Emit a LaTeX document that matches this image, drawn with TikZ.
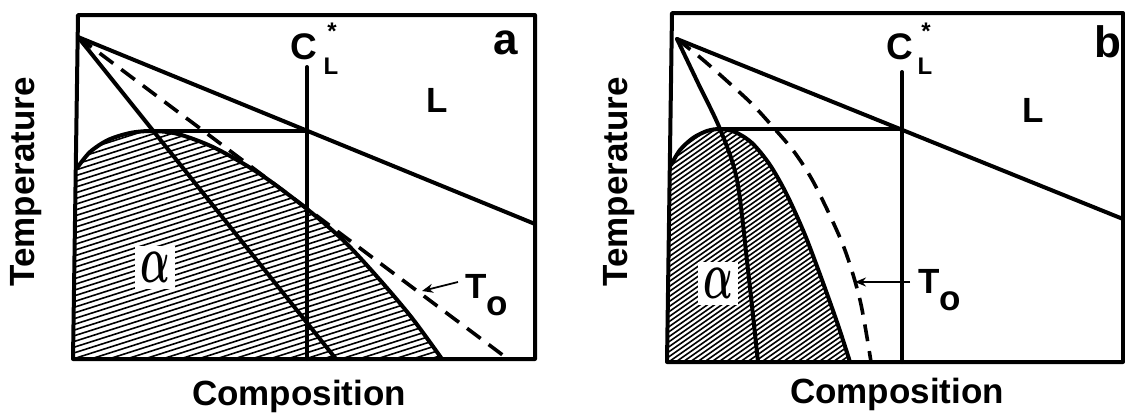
\documentclass[tikz,border=0pt]{standalone}
\usepackage{fontspec}
\usepackage{amsmath}
\setmainfont{Liberation Sans}
\usetikzlibrary{arrows.meta}
\begin{document}
\begin{tikzpicture}[x=1pt,y=-1pt,
  thickline/.style={line width=4pt, line join=round, line cap=round},
  dashline/.style={line width=3.6pt, dash pattern=on 17pt off 10pt},
  hatchline/.style={line width=1.6pt},
  pointer/.style={line width=1.8pt, -{Stealth[length=11pt,width=9pt]}},
  lbl/.style={font=\fontsize{35}{40}\selectfont\bfseries, inner sep=0pt},
  panel/.style={font=\fontsize{44}{50}\selectfont\bfseries, inner sep=0pt},
  cbig/.style={font=\fontsize{37}{42}\selectfont\bfseries, inner sep=0pt},
  csub/.style={font=\fontsize{24}{28}\selectfont\bfseries, inner sep=0pt},
  alphabox/.style={fill=white, minimum width=40pt, minimum height=43pt, inner sep=0pt}
]
\useasboundingbox (0,0) rectangle (1125,413);

% ================= Panel a =================
\begin{scope}
  \clip (73,359) -- (77,168) -- plot[smooth] coordinates {(77,168) (90,152) (108,140) (130,133) (152,131) (178,134) (215,148) (260,174) (307,209) (345,242) (380,280) (412,318) (442,359)} -- cycle;
  \foreach \k in {0,...,70} \draw[hatchline] (60,{118+\k*5.7}) -- ++(420,-134);
\end{scope}
\node[alphabox] (alA) at (155,267) {\scalebox{3.9}[6.8]{$\boldsymbol{\alpha}$}};

\coordinate (A1) at (78,15);
\coordinate (A2) at (535,15);
\coordinate (A3) at (535,359);
\coordinate (A4) at (73,359);
\draw[thickline] (A1) -- (A2) -- (A3) -- (A4) -- cycle;

\coordinate (apexA) at (78,37);
\coordinate (liqA) at (535,224);
\draw[thickline] (apexA) -- (liqA);
\coordinate (midA) at (336,359);
\draw[thickline] (apexA) -- (midA);
\draw[thickline] plot[smooth] coordinates {(77,168) (90,152) (108,140) (130,133) (152,131) (178,134) (215,148) (260,174) (307,209) (345,242) (380,280) (412,318) (442,359)};
\coordinate (dashA) at (508,359);
\draw[dashline] (apexA) -- (dashA);
\coordinate (hA1) at (154,131);
\coordinate (hA2) at (307,131);
\draw[thickline] (hA1) -- (hA2);
\coordinate (vA1) at (307,67);
\coordinate (vA2) at (307,359);
\draw[thickline] (vA1) -- (vA2);

\coordinate (toAtail) at (458,282);
\coordinate (toAtip) at (422,291);
\draw[pointer] (toAtail) -- (toAtip);
\node[lbl, anchor=base west] (ToA) at (465,298) {T\raisebox{-17pt}{o}};

\node[lbl, rotate=90] (tempA) at (26,182) {Temperature};
\node[lbl] (compA) at (299,396) {Composition};
\node[panel] (labA) at (506,43) {a};
\node[lbl] (LA) at (437,100) {L};
\node[cbig] (CA) at (304,47) {C};
\node[csub] (LsA) at (331,66) {L};
\node[csub, anchor=north] (stA) at (332,23) {*};

% ================= Panel b =================
\begin{scope}
  \clip (667,362) -- (671,165) -- plot[smooth] coordinates {(671,165) (680,150) (693,138) (707,131) (720,129) (735,132) (752,143) (770,165) (787,195) (805,235) (822,280) (838,325) (850,362)} -- cycle;
  \foreach \k in {0,...,80} \draw[hatchline] (650,{120+\k*5}) -- ++(220,-154);
\end{scope}
\node[alphabox] (alB) at (718,283) {\scalebox{3.9}[6.8]{$\boldsymbol{\alpha}$}};

\coordinate (B1) at (672,13);
\coordinate (B2) at (1123,13);
\coordinate (B3) at (1123,362);
\coordinate (B4) at (667,362);
\draw[thickline] (B1) -- (B2) -- (B3) -- (B4) -- cycle;

\coordinate (apexB) at (677,39);
\coordinate (liqB) at (1123,219);
\draw[thickline] (apexB) -- (liqB);
\draw[thickline] plot[smooth] coordinates {(677,39) (698,83) (720,129) (737,180) (748,270) (758,362)};
\draw[thickline] plot[smooth] coordinates {(671,165) (680,150) (693,138) (707,131) (720,129) (735,132) (752,143) (770,165) (787,195) (805,235) (822,280) (838,325) (850,362)};
\draw[dashline] plot[smooth] coordinates {(677,39) (702,59) (727,81) (752,104) (773,127) (795,153) (815,185) (843,245) (860,300) (871,362)};
\coordinate (hB1) at (720,129);
\coordinate (hB2) at (902,129);
\draw[thickline] (hB1) -- (hB2);
\coordinate (vB1) at (902,72);
\coordinate (vB2) at (902,362);
\draw[thickline] (vB1) -- (vB2);

\coordinate (toBtail) at (910,282);
\coordinate (toBtip) at (855,282);
\draw[pointer] (toBtail) -- (toBtip);
\node[lbl, anchor=base west] (ToB) at (918,293) {T\raisebox{-17pt}{o}};

\node[lbl, rotate=90] (tempB) at (619,182) {Temperature};
\node[lbl] (compB) at (897,394) {Composition};
\node[panel] (labB) at (1108,42) {b};
\node[lbl] (LB) at (1033,110) {L};
\node[cbig] (CB) at (900,47) {C};
\node[csub] (LsB) at (925,66) {L};
\node[csub, anchor=north] (stB) at (926,23) {*};
\end{tikzpicture}
\end{document}
